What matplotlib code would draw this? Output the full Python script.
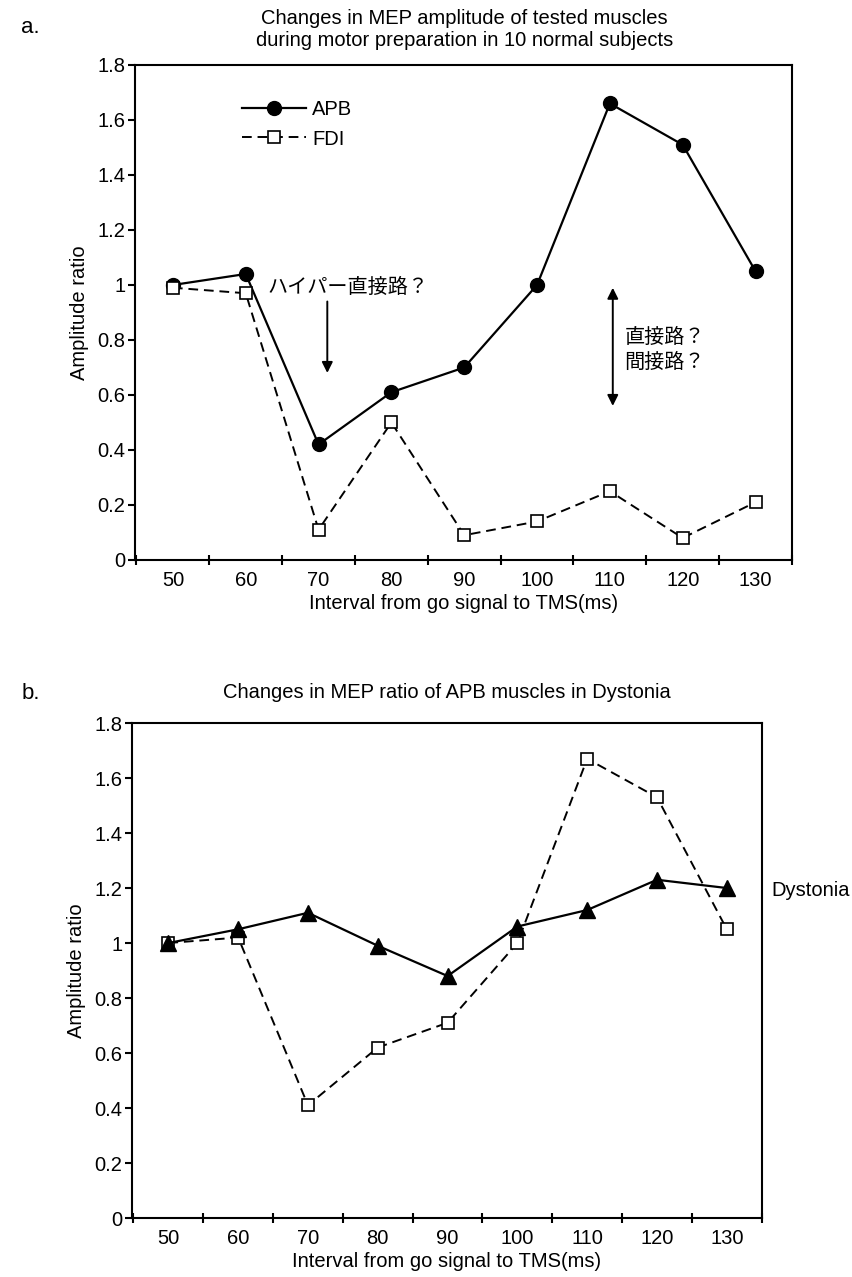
import numpy as np
import matplotlib
matplotlib.use('Agg')
import matplotlib.pyplot as plt

plt.rcParams['font.family'] = ['Liberation Sans', 'Noto Sans CJK JP', 'DejaVu Sans']

# intervals from go signal to TMS (ms)
intervals = [50, 60, 70, 80, 90, 100, 110, 120, 130]

# panel a: normal subjects
apb = [1.00, 1.04, 0.42, 0.61, 0.70, 1.00, 1.66, 1.51, 1.05]
fdi = [0.99, 0.97, 0.11, 0.50, 0.09, 0.14, 0.25, 0.08, 0.21]

# panel b: dystonia vs normal APB
dystonia = [1.00, 1.05, 1.11, 0.99, 0.88, 1.06, 1.12, 1.23, 1.20]
normal_apb = [1.00, 1.02, 0.41, 0.62, 0.71, 1.00, 1.67, 1.53, 1.05]

yticks = [0, 0.2, 0.4, 0.6, 0.8, 1.0, 1.2, 1.4, 1.6, 1.8]
ytick_labels = ['0', '0.2', '0.4', '0.6', '0.8', '1', '1.2', '1.4', '1.6', '1.8']

FS = 14.5
x = np.arange(len(intervals))

fig = plt.figure(figsize=(8.52, 12.77), dpi=100)
ax1 = fig.add_axes([0.1585, 0.5615, 0.771, 0.3876])
ax2 = fig.add_axes([0.155, 0.0462, 0.739, 0.3876])


def style_axis(ax):
    ax.set_xlim(-0.52, 8.5)
    ax.set_ylim(0, 1.8)
    ax.set_yticks(yticks)
    ax.set_yticklabels(ytick_labels, fontsize=FS)
    ax.set_xticks(x)
    ax.set_xticklabels([str(v) for v in intervals], fontsize=FS)
    ax.set_xticks(np.arange(-0.5, 9.0, 1.0), minor=True)
    ax.tick_params(axis='x', which='major', length=0, pad=8)
    ax.tick_params(axis='x', which='minor', direction='inout', length=7, width=1.5)
    ax.tick_params(axis='y', direction='out', length=5, width=1.5, pad=2)
    for s in ax.spines.values():
        s.set_linewidth(1.5)
    ax.set_ylabel('Amplitude ratio', fontsize=FS, labelpad=6)
    ax.set_xlabel('Interval from go signal to TMS(ms)', fontsize=FS, labelpad=3)


# ---- panel a
ax1.plot(x, apb, '-', color='black', lw=1.6, marker='o', ms=10, label='APB')
ax1.plot(x, fdi, '--', color='black', lw=1.4, dashes=(5, 3), marker='s', ms=9,
         mfc='white', mec='black', mew=1.2, label='FDI')
style_axis(ax1)
leg = ax1.legend(loc='upper left', bbox_to_anchor=(0.135, 0.965), frameon=False,
                 fontsize=FS, handlelength=3.2, labelspacing=0.5, handletextpad=0.3)

ax1.text(1.3, 0.99, 'ハイパー直接路？', fontsize=FS, va='center', ha='left')
ax1.annotate('', xy=(2.12, 0.67), xytext=(2.12, 0.95),
             arrowprops=dict(arrowstyle='-|>', color='black', lw=1.4, mutation_scale=16))
ax1.annotate('', xy=(6.04, 0.55), xytext=(6.04, 1.0),
             arrowprops=dict(arrowstyle='<|-|>', color='black', lw=1.4, mutation_scale=16))
ax1.text(6.2, 0.81, '直接路？', fontsize=FS, va='center', ha='left')
ax1.text(6.2, 0.72, '間接路？', fontsize=FS, va='center', ha='left')

fig.text(0.025, 0.987, 'a.', fontsize=FS + 1.5, va='top', ha='left')
fig.text(0.545, 0.993, 'Changes in MEP amplitude of tested muscles\nduring motor preparation in 10 normal subjects',
         fontsize=FS, va='top', ha='center', linespacing=1.2)

# ---- panel b
ax2.plot(x, normal_apb, '--', color='black', lw=1.4, dashes=(5, 3), marker='s', ms=9,
         mfc='white', mec='black', mew=1.2, zorder=2)
ax2.plot(x, dystonia, '-', color='black', lw=1.6, marker='^', ms=11, zorder=3)
style_axis(ax2)
ax2.text(1.015, 1.19, 'Dystonia', fontsize=FS, va='center', ha='left',
         transform=ax2.get_yaxis_transform())

fig.text(0.025, 0.465, 'b.', fontsize=FS + 1.5, va='top', ha='left')
fig.text(0.525, 0.465, 'Changes in MEP ratio of APB muscles in Dystonia',
         fontsize=FS, va='top', ha='center')

fig.savefig('out.png', dpi=100, facecolor='white')
